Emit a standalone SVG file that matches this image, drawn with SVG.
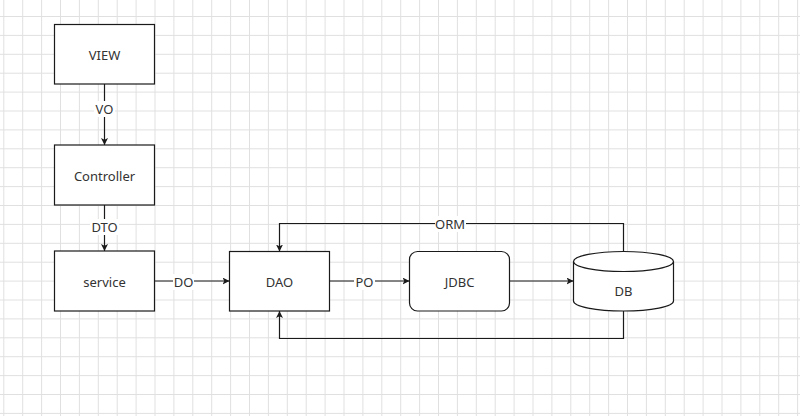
<svg xmlns="http://www.w3.org/2000/svg" width="800" height="416" viewBox="0 0 800 416">
<defs>
<pattern id="grid" patternUnits="userSpaceOnUse" x="3.3" y="-2.9" width="18.9" height="18.9">
<path d="M0.5 0V18.9M0 0.5H18.9" fill="none" stroke="#e0e0e0" stroke-width="1"/>
</pattern>
<marker id="arr" viewBox="0 0 10 10" refX="10" refY="5" markerWidth="7" markerHeight="7" markerUnits="userSpaceOnUse" orient="auto">
<path d="M0 0L10 5L0 10L2.5 5Z" fill="#1a1a1a"/>
</marker>
</defs>
<style>
.box{fill:#fff;stroke:#1a1a1a;stroke-width:1.2}
.ln{fill:none;stroke:#1a1a1a;stroke-width:1.2}
text{font-family:"Noto Sans","Liberation Sans",sans-serif;font-size:13px;fill:#333;text-anchor:middle;dominant-baseline:central}
.lbl{fill:#fff}
</style>
<rect width="800" height="416" fill="#fff"/>
<rect width="800" height="416" fill="url(#grid)"/>
<g id="connectors">
<path class="ln" d="M104.5 84V145" marker-end="url(#arr)"/>
<path class="ln" d="M104.5 205V251" marker-end="url(#arr)"/>
<path class="ln" d="M154.5 281H229.5" marker-end="url(#arr)"/>
<path class="ln" d="M329.5 281H409.5" marker-end="url(#arr)"/>
<path class="ln" d="M509.5 281H573.5" marker-end="url(#arr)"/>
<path class="ln" d="M623.5 251.5V223.5H279.5V251.5" marker-end="url(#arr)"/>
<path class="ln" d="M623.5 311V338.5H279.5V311" marker-end="url(#arr)"/>
<rect class="lbl" x="94" y="101" width="21" height="16"/>
<text x="104.5" y="108.5">VO</text>
<rect class="lbl" x="90" y="219" width="29" height="16"/>
<text x="104.5" y="227">DTO</text>
<rect class="lbl" x="173" y="274" width="21" height="16"/>
<text x="183.5" y="282">DO</text>
<rect class="lbl" x="354" y="274" width="21" height="16"/>
<text x="364.5" y="282">PO</text>
<rect class="lbl" x="435" y="216" width="31" height="16"/>
<text x="450" y="223.5">ORM</text>
</g>
<g id="view">
<rect class="box" x="54.5" y="24.5" width="100" height="59.5"/>
<text x="104.5" y="54.5">VIEW</text>
</g>
<g id="controller">
<rect class="box" x="54.5" y="145" width="100" height="60"/>
<text x="104.5" y="176">Controller</text>
</g>
<g id="service">
<rect class="box" x="54.5" y="251" width="100" height="60"/>
<text x="104.5" y="282">service</text>
</g>
<g id="dao">
<rect class="box" x="229.5" y="251.5" width="100" height="59.5"/>
<text x="279.5" y="282">DAO</text>
</g>
<g id="jdbc">
<rect class="box" x="409.5" y="251.5" width="100" height="59.5" rx="8" ry="8"/>
<text x="459.5" y="282">JDBC</text>
</g>
<g id="db">
<path class="box" d="M573.5 261.5A50 10 0 0 1 673.5 261.5V301A50 10 0 0 1 573.5 301Z"/>
<path class="ln" d="M573.5 261.5A50 10 0 0 0 673.5 261.5"/>
<text x="623.5" y="290.5">DB</text>
</g>
</svg>
